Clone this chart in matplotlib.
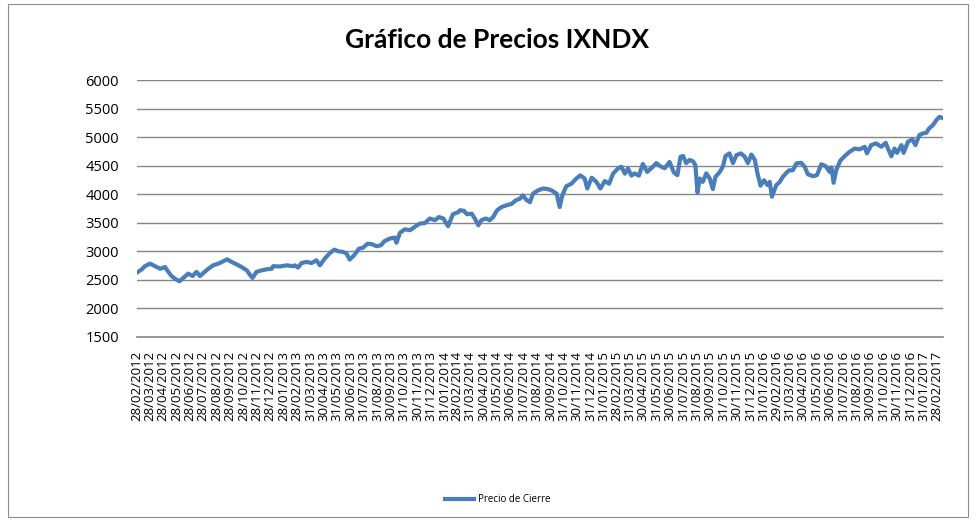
import matplotlib
matplotlib.use("Agg")
import matplotlib.pyplot as plt
from matplotlib.patches import Rectangle
import pandas as pd

# ---------------- data ----------------
fecha_inicio = "2012-02-28"
dias = [0, 11, 18, 30, 41, 53, 64, 69, 79, 87, 97, 106, 117, 127, 136, 144, 153, 163, 174, 186,
        197, 206, 216, 228, 239, 251, 258, 264, 273, 285, 296, 308, 311, 327, 342, 357,
        361, 368, 376, 388, 399, 410, 418, 429, 441, 451, 460, 471, 479, 486, 496, 507, 517, 527,
        537, 547, 557, 566, 578, 589, 593, 601, 612, 624, 635, 646, 658, 669, 681, 690, 700, 711,
        722, 734,
        738, 747, 754, 765, 772, 780, 787, 797, 806, 814, 823, 833, 844, 856, 866, 875, 882, 890,
        898, 905, 917, 928, 939, 949, 959, 966, 972, 981, 993, 1004, 1013, 1023, 1029, 1039, 1050,
        1059, 1069, 1079, 1088, 1099, 1107,
        1115, 1122, 1130, 1137, 1147, 1156, 1166, 1176, 1187, 1197, 1206, 1217, 1227, 1235, 1242,
        1248, 1255, 1263, 1271, 1276, 1281, 1286, 1293, 1301, 1309, 1316, 1322, 1332, 1339, 1345,
        1354, 1362, 1370, 1380, 1389, 1396, 1404, 1412, 1418, 1425, 1433, 1441, 1446, 1451, 1461,
        1469, 1476, 1486,
        1491, 1499, 1507, 1518, 1526, 1533, 1545, 1554, 1564, 1574, 1583, 1587, 1592, 1598, 1607,
        1617, 1628, 1640, 1651, 1663, 1668, 1678, 1689, 1701, 1711, 1718, 1724, 1731, 1737, 1747,
        1752, 1762, 1772, 1779, 1788, 1796, 1804, 1810, 1819, 1827, 1834, 1842]
precio = [2630, 2685, 2740, 2785, 2740, 2695, 2725, 2667, 2567, 2520, 2475, 2535, 2610, 2567, 2640,
          2567, 2630, 2695, 2755, 2785, 2825, 2860, 2815, 2770, 2725, 2667, 2590, 2535, 2640, 2667,
          2685, 2695, 2740, 2735, 2755, 2740,
          2755, 2715, 2795, 2815, 2795, 2843, 2755, 2872, 2970, 3030, 3000, 2990, 2960, 2855, 2930,
          3045, 3065, 3135, 3125, 3090, 3105, 3180, 3225, 3240, 3150, 3325, 3385, 3370, 3430, 3485,
          3495, 3575, 3545, 3600, 3575, 3440, 3650, 3685,
          3720, 3710, 3650, 3660, 3575, 3455, 3545, 3575, 3545, 3600, 3720, 3775, 3805, 3830, 3895,
          3920, 3980, 3900, 3860, 4010, 4070, 4100, 4090, 4060, 4010, 3775, 3980, 4140, 4185, 4275,
          4330, 4275, 4100, 4290, 4215, 4100, 4230, 4185, 4360, 4450, 4480,
          4360, 4450, 4325, 4365, 4325, 4530, 4390, 4460, 4545, 4485, 4455, 4565, 4380, 4335, 4655,
          4670, 4545, 4600, 4575, 4510, 4030, 4275, 4215, 4365, 4275, 4090, 4305, 4390, 4485, 4670,
          4715, 4545, 4685, 4715, 4655, 4545, 4695, 4600, 4365, 4150, 4245, 4160, 4215, 3955, 4160,
          4215, 4305, 4390,
          4420, 4420, 4540, 4550, 4480, 4350, 4315, 4335, 4525, 4490, 4390, 4470, 4200, 4420, 4585,
          4665, 4740, 4800, 4785, 4830, 4715, 4860, 4890, 4830, 4900, 4770, 4665, 4800, 4725, 4860,
          4725, 4920, 4960, 4860, 5035, 5065, 5075, 5150, 5210, 5300, 5355, 5330]

etiquetas = [
    "28/02/2012", "28/03/2012", "28/04/2012", "28/05/2012", "28/06/2012", "28/07/2012",
    "28/08/2012", "28/09/2012", "28/10/2012", "28/11/2012", "28/12/2012",
    "28/01/2013", "28/02/2013", "31/03/2013", "30/04/2013", "31/05/2013", "30/06/2013",
    "31/07/2013", "31/08/2013", "30/09/2013", "31/10/2013", "30/11/2013", "31/12/2013",
    "31/01/2014", "28/02/2014", "31/03/2014", "30/04/2014", "31/05/2014", "30/06/2014",
    "31/07/2014", "31/08/2014", "30/09/2014", "31/10/2014", "30/11/2014", "31/12/2014",
    "31/01/2015", "28/02/2015", "31/03/2015", "30/04/2015", "31/05/2015", "30/06/2015",
    "31/07/2015", "31/08/2015", "30/09/2015", "31/10/2015", "30/11/2015", "31/12/2015",
    "31/01/2016", "29/02/2016", "31/03/2016", "30/04/2016", "31/05/2016", "30/06/2016",
    "31/07/2016", "31/08/2016", "30/09/2016", "31/10/2016", "30/11/2016", "31/12/2016",
    "31/01/2017", "28/02/2017"]

y_ticks = [1500, 2000, 2500, 3000, 3500, 4000, 4500, 5000, 5500, 6000]

titulo = "Gráfico de Precios IXNDX"
serie = "Precio de Cierre"

# ---------------- figure ----------------
W, H = 977, 523
fig = plt.figure(figsize=(W / 100, H / 100), dpi=100)
fig.patch.set_facecolor("white")

# chart-area border
fig.patches.append(Rectangle((8 / W, 1 - 517 / H), (968 - 8) / W, (517 - 4) / H,
                             transform=fig.transFigure, fill=False,
                             edgecolor="#8c8c8c", linewidth=0.8))

ax = fig.add_axes([137 / W, 1 - 337 / H, (943 - 137) / W, (337 - 80) / H])

fechas = pd.Timestamp(fecha_inicio) + pd.to_timedelta(dias, unit="D")
ax.plot(fechas, precio, color="#4a7ebb", linewidth=3.0, solid_joinstyle="round",
        label=serie)

ax.set_ylim(1500, 6000)
ax.set_yticks(y_ticks)
ax.set_xlim(fechas[0], fechas[-1])

pos = pd.to_datetime(etiquetas, format="%d/%m/%Y")
ax.set_xticks(pos)
ax.set_xticklabels(etiquetas, rotation=90, fontsize=9.5, family="Open Sans",
                   va="top", ha="center")
for lbl in ax.get_yticklabels():
    lbl.set_fontfamily("Open Sans")
    lbl.set_fontsize(10.5)

ax.tick_params(axis="both", length=0, colors="black")
ax.tick_params(axis="y", pad=13)
ax.tick_params(axis="x", pad=10)

ax.grid(axis="y", color="#868686", linewidth=1.0)
ax.set_axisbelow(True)
for s in ["left", "right", "top"]:
    ax.spines[s].set_visible(False)
ax.spines["bottom"].set_color("#868686")
ax.spines["bottom"].set_linewidth(1.2)

fig.text(497 / W, 1 - 40 / H, titulo, ha="center", va="center",
         fontsize=19, fontweight="bold", family="Lato")

fig.legend(loc="center", bbox_to_anchor=(498 / W, 1 - 500 / H), frameon=False,
           prop={"family": "Open Sans", "size": 7}, handlelength=3.0,
           handletextpad=0.4)

fig.savefig("out.png", dpi=100)
